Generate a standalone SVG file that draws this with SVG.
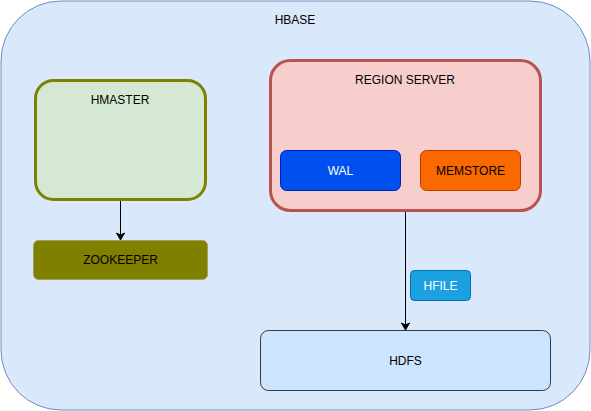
<svg xmlns="http://www.w3.org/2000/svg" width="591" height="411" viewBox="0 0 591 411">
<style>
text{font-family:"Liberation Sans",Arial,Helvetica,sans-serif;font-size:12px;text-anchor:middle;dominant-baseline:central;fill:#000}
.w{fill:#fff}
.edge{stroke:#000;stroke-width:1;fill:none}
</style>
<defs>
<marker id="arr" markerWidth="10" markerHeight="10" refX="8" refY="5" orient="auto" markerUnits="userSpaceOnUse">
<path d="M1,1 L8,5 L1,9 L3,5 Z" fill="#000" stroke="#000"/>
</marker>
</defs>
<g id="hbase">
<rect x="1" y="1" width="589" height="409" rx="60" fill="#dae8fc" stroke="#6c8ebf"/>
<text x="295" y="20">HBASE</text>
</g>
<g id="hmaster">
<rect x="35.5" y="80.5" width="170" height="119" rx="18" fill="#d5e8d4" stroke="#808000" stroke-width="3"/>
<text x="120" y="100">HMASTER</text>
</g>
<g id="zookeeper">
<rect x="33.5" y="240.5" width="174" height="39" rx="5" fill="#808000" stroke="#a0a060" stroke-width="1"/>
<text x="120.5" y="260">ZOOKEEPER</text>
</g>
<g id="regionserver">
<rect x="270.5" y="60.5" width="270" height="150" rx="20" fill="#f8cecc" stroke="#b85450" stroke-width="3"/>
<text x="405" y="80">REGION SERVER</text>
</g>
<g id="wal">
<rect x="280.5" y="150.5" width="120" height="40" rx="6" fill="#0050ef" stroke="#001dbc"/>
<text class="w" x="340.5" y="170.5">WAL</text>
</g>
<g id="memstore">
<rect x="420.5" y="150.5" width="100" height="40" rx="6" fill="#fa6800" stroke="#c73500"/>
<text x="470.5" y="170.5">MEMSTORE</text>
</g>
<g id="hfile">
<rect x="410.5" y="270.5" width="60" height="30" rx="4" fill="#1ba1e2" stroke="#006eaf"/>
<text class="w" x="440.5" y="285.5">HFILE</text>
</g>
<g id="hdfs">
<rect x="260.5" y="330.5" width="290" height="60" rx="8" fill="#cce5ff" stroke="#36393d"/>
<text x="405.5" y="360.5">HDFS</text>
</g>
<g id="connectors">
<line class="edge" x1="120.5" y1="201" x2="120.5" y2="240" marker-end="url(#arr)"/>
<line class="edge" x1="405.5" y1="212" x2="405.5" y2="330" marker-end="url(#arr)"/>
</g>
</svg>
